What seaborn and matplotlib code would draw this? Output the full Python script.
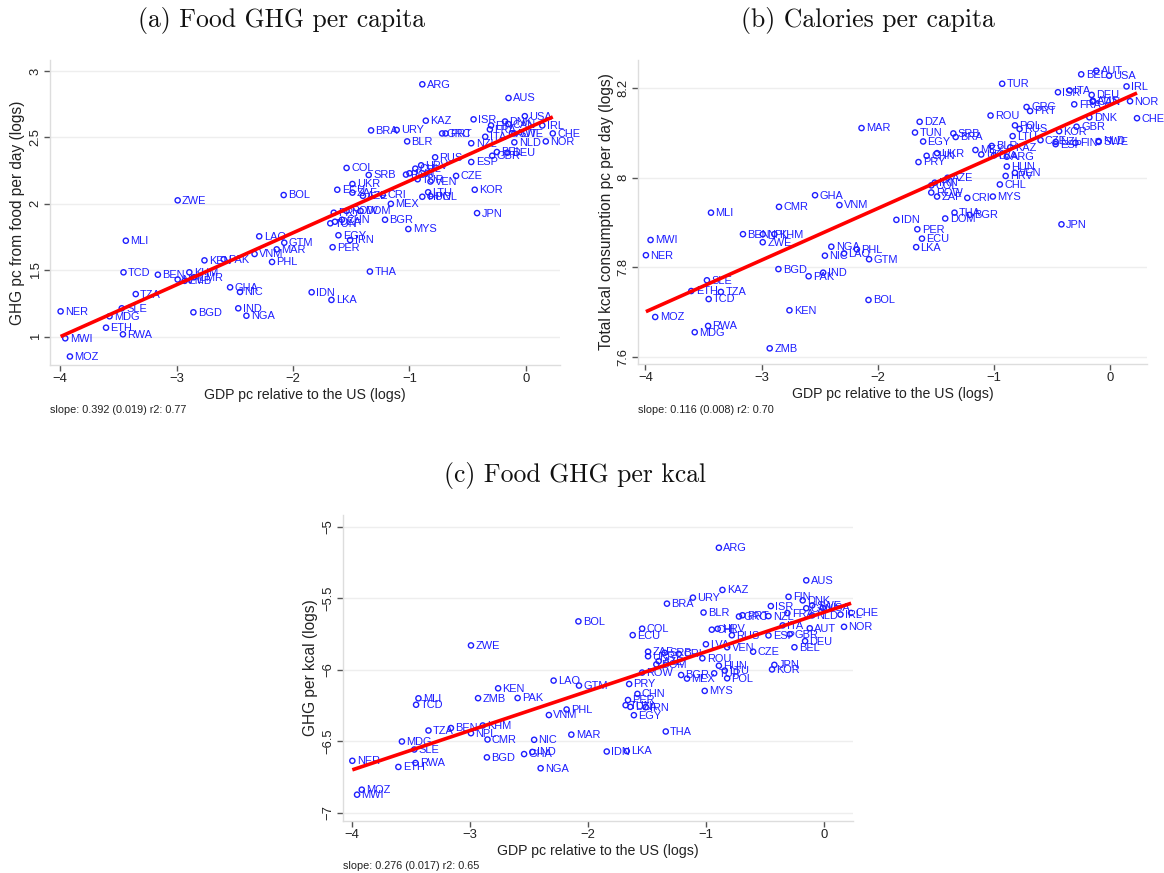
import numpy as np
import pandas as pd
import matplotlib
matplotlib.use("Agg")
import matplotlib.pyplot as plt
from matplotlib.ticker import FuncFormatter
import seaborn as sns

countries = ["ARG","AUS","AUT","AZE","BEL","BEN","BGD","BGR","BLR","BOL","BRA","CAN","CHE","CHL","CHN",
             "CMR","COL","CRI","CZE","DEU","DNK","DOM","DZA","ECU","EGY","ESP","ETH","FIN","FRA","GBR",
             "GHA","GRC","GTM","HRV","HUN","IDN","IND","IRL","IRN","ISR","ITA","JPN","KAZ","KEN","KHM",
             "KOR","LAO","LKA","LTU","LVA","MAR","MDG","MEX","MLI","MOZ","MWI","MYS","NER","NGA","NIC",
             "NLD","NOR","NPL","NZL","PAK","PER","PHL","POL","PRT","PRY","ROU","ROW","RUS","RWA","SLE",
             "SRB","SWE","TCD","THA","TUN","TUR","TZA","UKR","URY","USA","VEN","VNM","ZAF","ZMB","ZWE"]

gdp_rel_us = [-0.89,-0.15,-0.12,-1.40,-0.25,-3.16,-2.855,-1.21,-1.02,-2.08,-1.33,-0.15,0.23,-0.95,-1.58,
              -2.85,-1.54,-1.23,-0.60,-0.16,-0.18,-1.42,-1.64,-1.62,-1.61,-0.47,-3.605,-0.30,-0.31,-0.29,
              -2.54,-0.72,-2.075,-0.90,-0.89,-1.84,-2.47,0.14,-1.51,-0.45,-0.35,-0.42,-0.86,-2.76,-2.89,
              -0.44,-2.29,-1.67,-0.84,-1.00,-2.14,-3.575,-1.16,-3.435,-3.915,-3.955,-1.01,-3.995,-2.40,-2.455,
              -0.10,0.17,-2.99,-0.47,-2.595,-1.66,-2.18,-0.82,-0.69,-1.65,-1.03,-1.54,-0.78,-3.46,-3.47,
              -1.35,-0.10,-3.455,-1.34,-1.68,-0.93,-3.35,-1.49,-1.11,-0.01,-0.82,-2.33,-1.49,-2.93,-2.99]

ghg_pc = [2.90,2.797,2.53,2.06,2.39,1.466,1.183,1.88,2.47,2.066,2.553,2.60,2.53,2.265,1.88,
          1.447,2.27,2.066,2.21,2.385,2.62,1.946,1.865,2.106,1.763,2.315,1.067,2.59,2.56,2.362,
          1.371,2.53,1.707,2.29,2.053,1.334,1.213,2.59,1.727,2.636,2.505,1.93,2.626,1.574,1.484,
          2.106,1.755,1.276,2.087,2.23,1.657,1.153,2.00,1.722,0.85,0.987,1.81,1.19,1.157,1.336,
          2.463,2.47,1.43,2.456,1.582,1.673,1.562,2.057,2.53,1.933,2.22,1.946,2.35,1.017,1.213,
          2.217,2.53,1.484,1.49,1.853,2.185,1.32,2.149,2.556,2.66,2.168,1.622,2.084,1.42,2.026]

kcal_pc = [8.047,8.172,8.239,8.00,8.231,7.874,7.796,7.917,8.071,7.727,8.091,8.17,8.133,7.985,8.049,
           7.935,7.983,7.955,8.084,8.185,8.135,7.909,8.125,7.864,8.081,8.075,7.747,8.078,8.164,8.114,
           7.961,8.158,7.818,8.004,8.025,7.906,7.788,8.204,7.989,8.191,8.195,7.896,8.068,7.704,7.874,
           8.104,7.831,7.845,8.093,8.05,8.111,7.655,8.062,7.922,7.689,7.861,7.958,7.827,7.846,7.826,
           8.082,8.171,7.874,8.08,7.78,7.885,7.84,8.117,8.149,8.035,8.139,7.967,8.109,7.669,7.771,
           8.099,8.08,7.729,7.922,8.101,8.21,7.745,8.055,8.052,8.228,8.011,7.939,7.958,7.619,7.856]

ghg_per_kcal = [-5.147,-5.375,-5.71,-5.94,-5.843,-6.408,-6.613,-6.037,-5.60,-5.662,-5.538,-5.57,-5.603,-5.72,-6.169,
                -6.488,-5.713,-5.889,-5.874,-5.80,-5.515,-5.963,-6.26,-5.758,-6.318,-5.76,-6.68,-5.49,-5.604,-5.752,
                -6.59,-5.628,-6.111,-5.714,-5.972,-6.572,-6.575,-5.614,-6.262,-5.555,-5.69,-5.966,-5.442,-6.13,-6.39,
                -5.998,-6.076,-6.569,-6.006,-5.822,-6.454,-6.502,-6.062,-6.20,-6.839,-6.874,-6.148,-6.637,-6.689,-6.49,
                -5.62,-5.70,-6.444,-5.625,-6.198,-6.212,-6.278,-6.06,-5.619,-6.10,-5.92,-6.02,-5.759,-6.652,-6.558,
                -5.882,-5.55,-6.245,-6.432,-6.248,-6.025,-6.425,-5.906,-5.496,-5.568,-5.843,-6.317,-5.874,-6.199,-5.83]

titles = ["(a) Food GHG per capita", "(b) Calories per capita", "(c) Food GHG per kcal"]
ylabels = ["GHG pc from food per day (logs)", "Total kcal consumption pc per day (logs)", "GHG per kcal (logs)"]
xlabel = "GDP pc relative to the US (logs)"
notes = ["slope: 0.392 (0.019) r2: 0.77", "slope: 0.116 (0.008) r2: 0.70", "slope: 0.276 (0.017) r2: 0.65"]
xticks = [-4, -3, -2, -1, 0]
yticks_a = [1, 1.5, 2, 2.5, 3]
yticks_b = [7.6, 7.8, 8, 8.2]
yticks_c = [-7, -6.5, -6, -5.5, -5]

sns.set_theme(style="white")
plt.rcParams["font.family"] = ["Liberation Sans", "DejaVu Sans"]

df = pd.DataFrame({"code": countries, "gdp": gdp_rel_us, "ghg": ghg_pc,
                   "kcal": kcal_pc, "ghgkcal": ghg_per_kcal})

W, H = 1164, 873
fig = plt.figure(figsize=(W / 100, H / 100), dpi=100)

def rect(l, t, r, b):
    return [l / W, 1 - b / H, (r - l) / W, (b - t) / H]

panels = [
    dict(col="ghg", rect=rect(50, 60, 560, 365), xlim=(-4.086, 0.292), ylim=(0.786, 3.083),
         yticks=yticks_a, title=titles[0], tpos=(282, 20), ylabel=ylabels[0], note=notes[0], npos=(50, 410)),
    dict(col="kcal", rect=rect(638, 60, 1147, 364), xlim=(-4.063, 0.316), ylim=(7.584, 8.263),
         yticks=yticks_b, title=titles[1], tpos=(868, 20), ylabel=ylabels[1], note=notes[1], npos=(638, 410)),
    dict(col="ghgkcal", rect=rect(343, 515, 853, 821), xlim=(-4.074, 0.246), ylim=(-7.058, -4.918),
         yticks=yticks_c, title=titles[2], tpos=(575, 476), ylabel=ylabels[2], note=notes[2], npos=(343, 866)),
]

BLUE = "#1e1eff"
fmt = FuncFormatter(lambda v, _: ("%g" % v).replace("-", "\u2212"))

for p in panels:
    ax = fig.add_axes(p["rect"])
    col = p["col"]
    sns.scatterplot(data=df, x="gdp", y=col, ax=ax, marker="o", s=14,
                    facecolors="none", edgecolor=BLUE, linewidth=1.0, zorder=3)
    for _, r in df.iterrows():
        ax.annotate(r["code"], (r["gdp"], r[col]), xytext=(3.2, -0.3), textcoords="offset points",
                    ha="left", va="center", fontsize=7.9, color=BLUE, zorder=4, annotation_clip=False)
    sns.regplot(data=df, x="gdp", y=col, ax=ax, scatter=False, ci=None, truncate=True,
                color="red", line_kws=dict(lw=2.6, zorder=6, solid_capstyle="butt"))
    ax.set_xlim(*p["xlim"])
    ax.set_ylim(*p["ylim"])
    ax.set_xticks(xticks)
    ax.set_yticks(p["yticks"])
    ax.xaxis.set_major_formatter(fmt)
    ax.yaxis.set_major_formatter(fmt)
    ax.yaxis.grid(True, color="#eeeeee", lw=1.0)
    ax.xaxis.grid(False)
    ax.set_axisbelow(True)
    for s in ["top", "right"]:
        ax.spines[s].set_visible(False)
    for s in ["left", "bottom"]:
        ax.spines[s].set_color("#dddddd")
        ax.spines[s].set_linewidth(1.0)
    ax.tick_params(axis="both", direction="out", length=4, width=1, color="#555555",
                   labelsize=9.4, labelcolor="#222222", pad=2, bottom=True, left=True)
    for lab in ax.get_yticklabels():
        lab.set_rotation(90)
        lab.set_va("center")
    ax.set_xlabel(xlabel, fontsize=10.2, labelpad=2, color="#222222")
    ax.set_ylabel(p["ylabel"], fontsize=11.2, labelpad=3, color="#222222")
    fig.text(p["tpos"][0] / W, 1 - p["tpos"][1] / H, p["title"], ha="center", va="center",
             fontsize=18.5, family="cmr10", color="#111111")
    fig.text(p["npos"][0] / W, 1 - p["npos"][1] / H, p["note"], ha="left", va="center",
             fontsize=7.8, color="#222222")

fig.savefig("out.png", dpi=100)
